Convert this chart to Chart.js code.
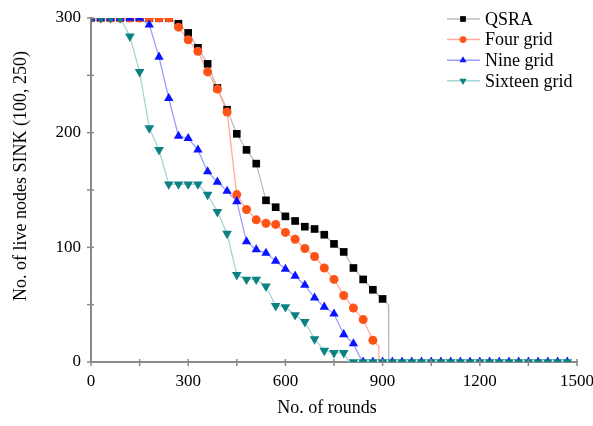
<!DOCTYPE html>
<html>
<head>
<meta charset="utf-8">
<script src="https://cdn.jsdelivr.net/npm/chart.js@4.4.0/dist/chart.umd.min.js"></script>
<style>
  html, body { margin: 0; padding: 0; background: #ffffff; }
  #wrap { width: 593px; height: 426px; }
</style>
</head>
<body>
<div id="wrap"><canvas id="chart" width="593" height="426"></canvas></div>
<script>
// Sampling rounds (one marker every 30 rounds)
const rounds = [0, 30, 60, 90, 120, 150, 180, 210, 240, 270, 300, 330, 360, 390, 420, 450, 480, 510,
  540, 570, 600, 630, 660, 690, 720, 750, 780, 810, 840, 870, 900, 930, 960, 990, 1020, 1050, 1080,
  1110, 1140, 1170, 1200, 1230, 1260, 1290, 1320, 1350, 1380, 1410, 1440, 1470];

// Live nodes per scheme at each sampled round (null = network already dead, no marker)
const qsra = [300, 300, 300, 300, 300, 300, 300, 300, 300, 295, 287, 274, 260, 239, 220, 199, 185, 173,
  141, 135, 127, 123, 118, 116, 111, 103, 96, 82, 72, 63, 55, null, null, null, null, null, null,
  null, null, null, null, null, null, null, null, null, null, null, null, null];
const fourGrid = [300, 300, 300, 300, 300, 300, 300, 300, 300, 292, 281, 271, 253, 238, 218, 146, 133, 124,
  121, 120, 113, 107, 99, 92, 82, 72, 58, 47, 37, 19, null, null, null, null, null, null, null,
  null, null, null, null, null, null, null, null, null, null, null, null, null];
const nineGrid = [300, 300, 300, 300, 300, 300, 294, 266, 230, 197, 195, 185, 166, 157, 149, 140, 105, 98,
  95, 88, 81, 75, 67, 56, 48, 42, 24, 16, 0, 0, 0, 0, 0, 0, 0, 0, 0,
  0, 0, 0, 0, 0, 0, 0, 0, 0, 0, 0, 0, 0];
const sixteenGrid = [300, 300, 300, 300, 284, 253, 204, 185, 155, 155, 155, 155, 146, 131, 112, 76, 72, 72,
  66, 49, 48, 41, 35, 20, 10, 8, 8, 0, 0, 0, 0, 0, 0, 0, 0, 0, 0,
  0, 0, 0, 0, 0, 0, 0, 0, 0, 0, 0, 0, 0];

// Final die-off of each trace between sampled rounds: [round, live nodes]
const qsraTail = [[918, 50], [919, 0]];
const fourGridTail = [[888, 14], [889, 0]];
const nineGridTail = [[827, 6]];
const sixteenGridTail = [[796, 0]];

const seriesNames = ['QSRA', 'Four grid', 'Nine grid', 'Sixteen grid'];

const xTicks = { min: 0, max: 1500, major: 300, minor: 150 };
const yTicks = { min: 0, max: 300, major: 100, minor: 50 };

const styles = [
  { marker: '#000000', line: '#bdbdbd', pointStyle: 'rect', radius: 5.4, rotation: 0 },
  { marker: '#ff5216', line: '#ffaa9a', pointStyle: 'circle', radius: 4.5, rotation: 0 },
  { marker: '#0a14ff', line: '#9aa0ff', pointStyle: 'triangle', radius: 5.4, rotation: 0 },
  { marker: '#0b8181', line: '#a5d6d6', pointStyle: 'triangle', radius: 5.6, rotation: 180 }
];

const seriesValues = [qsra, fourGrid, nineGrid, sixteenGrid];
const seriesTails = [qsraTail, fourGridTail, nineGridTail, sixteenGridTail];

function markerPoints(values) {
  const pts = [];
  rounds.forEach((r, i) => { if (values[i] !== null) pts.push({ x: r, y: values[i] }); });
  return pts;
}
function tracePoints(values, tail) {
  const pts = markerPoints(values).concat(tail.map(t => ({ x: t[0], y: t[1] })));
  pts.sort((a, b) => a.x - b.x);
  return pts;
}

const datasets = [];
seriesValues.forEach((vals, i) => {
  const s = styles[i];
  // thin connecting trace, kept beneath every marker
  datasets.push({
    label: seriesNames[i] + ' trace',
    data: tracePoints(vals, seriesTails[i]),
    showLine: true,
    borderColor: s.line,
    borderWidth: 1.3,
    pointRadius: 0,
    pointHoverRadius: 0,
    tension: 0,
    clip: 0,
    order: 20 - i
  });
  // markers, cut off at the plot edges
  datasets.push({
    label: seriesNames[i],
    data: markerPoints(vals),
    showLine: false,
    backgroundColor: s.marker,
    borderColor: s.marker,
    borderWidth: 0,
    pointStyle: s.pointStyle,
    pointRotation: s.rotation,
    pointRadius: s.radius,
    pointHoverRadius: s.radius,
    clip: 0,
    order: 10 - i
  });
});

const FONT = '"Liberation Serif", "Times New Roman", serif';
Chart.defaults.font.family = FONT;
Chart.defaults.color = '#000000';

const AXIS_COLOR = '#8a8a8a';

const decor = {
  id: 'decor',
  afterDraw(chart) {
    const ctx = chart.ctx;
    const xs = chart.scales.x, ys = chart.scales.y;
    const area = chart.chartArea;
    ctx.save();
    // tick marks crossing the axes (major and minor)
    ctx.strokeStyle = AXIS_COLOR;
    ctx.lineWidth = 1.5;
    for (let v = xTicks.min; v <= xTicks.max; v += xTicks.minor) {
      const px = xs.getPixelForValue(v);
      ctx.beginPath();
      ctx.moveTo(px, area.bottom - 3);
      ctx.lineTo(px, area.bottom + 4);
      ctx.stroke();
    }
    for (let v = yTicks.min; v <= yTicks.max; v += yTicks.minor) {
      const py = ys.getPixelForValue(v);
      ctx.beginPath();
      ctx.moveTo(area.left - 4, py);
      ctx.lineTo(area.left + 3, py);
      ctx.stroke();
    }

    // axis titles
    ctx.fillStyle = '#000000';
    ctx.font = '18px ' + FONT;
    ctx.textAlign = 'center';
    ctx.textBaseline = 'middle';
    ctx.fillText('No. of rounds', 327, 408);
    ctx.translate(21, 176);
    ctx.rotate(-Math.PI / 2);
    ctx.fillText('No. of live nodes SINK (100, 250)', 0, 0);
    ctx.restore();

    // legend: line sample with marker, then label
    ctx.save();
    ctx.font = '18px ' + FONT;
    ctx.textAlign = 'left';
    ctx.textBaseline = 'middle';
    seriesNames.forEach((name, i) => {
      const s = styles[i];
      const y = 19 + i * 20.6;
      ctx.strokeStyle = s.line;
      ctx.lineWidth = 1.5;
      ctx.beginPath();
      ctx.moveTo(447, y);
      ctx.lineTo(480, y);
      ctx.stroke();
      ctx.fillStyle = s.marker;
      ctx.strokeStyle = s.marker;
      Chart.helpers.drawPoint(ctx, {
        pointStyle: s.pointStyle, radius: s.radius * 0.75, rotation: s.rotation, borderWidth: 0
      }, 463, y);
      ctx.fillStyle = '#000000';
      ctx.fillText(name, 485, y + 1);
    });
    ctx.restore();
  }
};

new Chart(document.getElementById('chart'), {
  type: 'scatter',
  data: { datasets },
  options: {
    responsive: false,
    animation: false,
    devicePixelRatio: 1,
    layout: { padding: { top: 18, right: 16, left: 0, bottom: 0 } },
    plugins: { legend: { display: false }, tooltip: { enabled: false } },
    scales: {
      x: {
        type: 'linear',
        min: xTicks.min,
        max: xTicks.max,
        afterFit(scale) { scale.height = 64; scale.paddingLeft = 0; scale.paddingRight = 0; },
        afterBuildTicks(scale) {
          scale.ticks = [];
          for (let v = xTicks.min; v <= xTicks.max; v += xTicks.major) scale.ticks.push({ value: v });
        },
        grid: { display: false, drawTicks: false },
        border: { display: true, color: AXIS_COLOR, width: 2 },
        ticks: { font: { size: 17 }, padding: 9, maxRotation: 0, color: '#000000', callback: v => String(v) }
      },
      y: {
        type: 'linear',
        min: yTicks.min,
        max: yTicks.max,
        afterFit(scale) { scale.width = 91; scale.paddingTop = 0; scale.paddingBottom = 0; },
        afterBuildTicks(scale) {
          scale.ticks = [];
          for (let v = yTicks.min; v <= yTicks.max; v += yTicks.major) scale.ticks.push({ value: v });
        },
        grid: { display: false, drawTicks: false },
        border: { display: true, color: AXIS_COLOR, width: 2 },
        ticks: { font: { size: 17 }, padding: 10, color: '#000000', callback: v => String(v) }
      }
    }
  },
  plugins: [decor]
});
</script>
</body>
</html>
